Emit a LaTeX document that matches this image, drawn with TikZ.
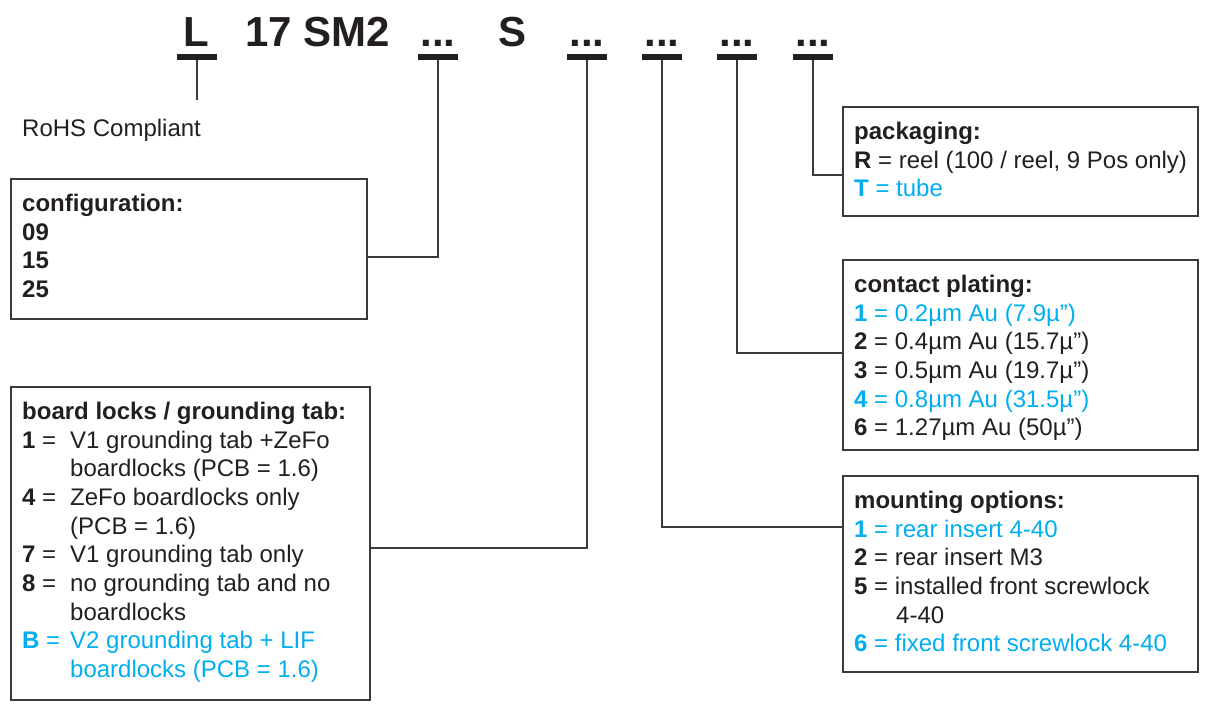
\documentclass[tikz,border=0pt]{standalone}
\usepackage{fontspec}
\setmainfont{Liberation Sans}
\definecolor{ink}{HTML}{231F20}
\definecolor{erni}{HTML}{00AEEF}
\definecolor{rule}{HTML}{3A3A3A}
\begin{document}
\begin{tikzpicture}[x=1pt,y=-1pt,
  box/.style={draw=rule, line width=1.3pt, anchor=north west, inner sep=0pt, outer sep=0pt},
  txt/.style={anchor=base west, inner sep=0pt, font=\fontsize{24}{28}\selectfont, text=ink},
  blue/.style={txt, text=erni},
  head/.style={anchor=base, inner sep=0pt, font=\fontsize{42}{44}\selectfont\bfseries, text=ink},
  bar/.style={fill=ink, minimum width=40pt, minimum height=6pt, inner sep=0pt, outer sep=0pt},
  conn/.style={draw=rule, line width=1.3pt}]
\useasboundingbox (0,0) rectangle (1209,709);

% part number heading
\node[head] (hL) at (196,46.5) {L};
\node[head] (h17) at (318,46.5) {17 SM2};
\node[head] (h2) at (438,46.5) {...};
\node[head] (hS) at (512,46.5) {S};
\node[head] (h5) at (587,46.5) {...};
\node[head] (h6) at (662,46.5) {...};
\node[head] (h7) at (737,46.5) {...};
\node[head] (h8) at (813,46.5) {...};

\node[bar] (b1) at (197,57) {};
\node[bar] (b2) at (438,57) {};
\node[bar] (b5) at (587,57) {};
\node[bar] (b6) at (662,57) {};
\node[bar] (b7) at (737,57) {};
\node[bar] (b8) at (813,57) {};

% RoHS
\coordinate (rohsend) at (197,100);
\node[txt] (rohs) at (22,136) {RoHS Compliant};
\draw[conn] (b1.south) -- (rohsend);

% boxes
\node[box, minimum width=356pt, minimum height=140pt] (cfg) at (11,179) {};
\node[box, minimum width=359pt, minimum height=313pt] (blk) at (11,387) {};
\node[box, minimum width=355pt, minimum height=109pt] (pack) at (843,107) {};
\node[box, minimum width=355pt, minimum height=190pt] (plat) at (843,260) {};
\node[box, minimum width=355pt, minimum height=196pt] (mount) at (843,476) {};

% connector levels
\coordinate (y2) at (0,257);
\coordinate (y5) at (0,548);
\coordinate (y6) at (0,527);
\coordinate (y7) at (0,353);
\coordinate (y8) at (0,175);
\draw[conn] (b2.south) |- (cfg.east |- y2);
\draw[conn] (b5.south) |- (blk.east |- y5);
\draw[conn] (b6.south) |- (mount.west |- y6);
\draw[conn] (b7.south) |- (plat.west |- y7);
\draw[conn] (b8.south) |- (pack.west |- y8);

% configuration
\node[txt] (cfgT) at (22,211) {\bfseries configuration:};
\node[txt] (cfg1) at (22,240) {\bfseries 09};
\node[txt] (cfg2) at (22,268) {\bfseries 15};
\node[txt] (cfg3) at (22,297) {\bfseries 25};

% board locks
\node[txt] (blkT) at (22,419) {\bfseries board locks / grounding tab:};
\node[txt] (blk1) at (22,448) {\bfseries 1 \mdseries=};
\node[txt] (blk1a) at (70,448) {V1 grounding tab +ZeFo};
\node[txt] (blk1b) at (70,476) {boardlocks (PCB = 1.6)};
\node[txt] (blk4) at (22,505) {\bfseries 4 \mdseries=};
\node[txt] (blk4a) at (70,505) {ZeFo boardlocks only};
\node[txt] (blk4b) at (70,534) {(PCB = 1.6)};
\node[txt] (blk7) at (22,562) {\bfseries 7 \mdseries=};
\node[txt] (blk7a) at (70,562) {V1 grounding tab only};
\node[txt] (blk8) at (22,591) {\bfseries 8 \mdseries=};
\node[txt] (blk8a) at (70,591) {no grounding tab and no};
\node[txt] (blk8b) at (70,620) {boardlocks};
\node[blue] (blkB) at (22,648) {\bfseries B \mdseries=};
\node[blue] (blkBa) at (70,648) {V2 grounding tab + LIF};
\node[blue] (blkBb) at (70,677) {boardlocks (PCB = 1.6)};

% packaging
\node[txt] (packT) at (854,139) {\bfseries packaging:};
\node[txt] (packR) at (854,168) {\textbf{R} = reel (100 / reel, 9 Pos only)};
\node[blue] (packT2) at (854,196) {\textbf{T} = tube};

% contact plating
\node[txt] (platT) at (854,292) {\bfseries contact plating:};
\node[blue] (plat1) at (854,321) {\textbf{1} = 0.2µm Au (7.9µ”)};
\node[txt] (plat2) at (854,349) {\textbf{2} = 0.4µm Au (15.7µ”)};
\node[txt] (plat3) at (854,378) {\textbf{3} = 0.5µm Au (19.7µ”)};
\node[blue] (plat4) at (854,407) {\textbf{4} = 0.8µm Au (31.5µ”)};
\node[txt] (plat6) at (854,435) {\textbf{6} = 1.27µm Au (50µ”)};

% mounting options
\node[txt] (mntT) at (854,508) {\bfseries mounting options:};
\node[blue] (mnt1) at (854,537) {\textbf{1} = rear insert 4-40};
\node[txt] (mnt2) at (854,565) {\textbf{2} = rear insert M3};
\node[txt] (mnt5) at (854,594) {\textbf{5} = installed front screwlock};
\node[txt] (mnt5b) at (896,623) {4-40};
\node[blue] (mnt6) at (854,651) {\textbf{6} = fixed front screwlock 4-40};
\end{tikzpicture}
\end{document}
